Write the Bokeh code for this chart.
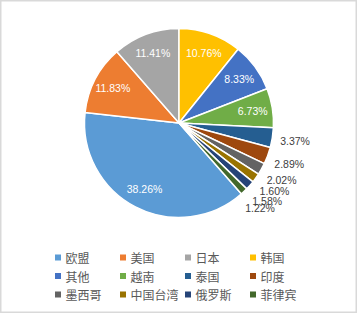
import math
from bokeh.plotting import figure
from bokeh.models import Range1d, ColumnDataSource
from bokeh.core.properties import value
from bokeh.embed import file_html
from bokeh.resources import INLINE

categories = ["欧盟", "美国", "日本", "韩国", "其他", "越南", "泰国", "印度",
              "墨西哥", "中国台湾", "俄罗斯", "菲律宾"]
shares = [38.26, 11.83, 11.41, 10.76, 8.33, 6.73, 3.37, 2.89, 2.02, 1.60, 1.58, 1.22]
colors = ["#5B9BD5", "#ED7D31", "#A5A5A5", "#FFC000", "#4472C4", "#70AD47",
          "#255E91", "#9E480E", "#636363", "#997300", "#264478", "#43682B"]

W, H = 357, 313
CX, CY, R = 178.5, H - 122.5, 94.5
FIRST_ANGLE = 138.6  # degrees clockwise from 12 o'clock

total = sum(shares)
starts, ends, mids = [], [], []
acc = FIRST_ANGLE
for s in shares:
    a0 = acc
    a1 = acc + 360.0 * s / total
    starts.append(math.radians(90 - a1))
    ends.append(math.radians(90 - a0))
    mids.append((a0 + a1) / 2)
    acc = a1

p = figure(width=W, height=H, output_backend="svg", toolbar_location=None,
           x_range=Range1d(0, W), y_range=Range1d(0, H),
           x_axis_location=None, y_axis_location=None, min_border=0)
p.grid.visible = False
p.outline_line_color = "#d9d9d9"
p.outline_line_width = 2
p.background_fill_color = "white"
p.border_fill_color = "white"

src = ColumnDataSource(dict(x=[CX] * len(shares), y=[CY] * len(shares),
                            start=starts, end=ends, color=colors, name=categories))
p.wedge(x="x", y="y", radius=R, start_angle="start", end_angle="end",
        fill_color="color", line_color="white", line_width=1.5, source=src)

in_x, in_y, in_t, out_x, out_y, out_t = [], [], [], [], [], []
for s, m in zip(shares, mids):
    t = f"{s:.2f}%"
    if s > 5:
        r = 0.79 * R
        in_x.append(CX + r * math.sin(math.radians(m)))
        in_y.append(CY + r * math.cos(math.radians(m)))
        in_t.append(t)
    else:
        r = R + 23
        out_x.append(CX + r * math.sin(math.radians(m)))
        out_y.append(CY + r * math.cos(math.radians(m)))
        out_t.append(t)

p.text(x=in_x, y=in_y, text=in_t, text_align="center", text_baseline="middle",
       text_color="white", text_font=value("Liberation Sans"), text_font_size="10.5px")
p.text(x=out_x, y=out_y, text=out_t, text_align="center", text_baseline="middle",
       text_color="#404040", text_font=value("Liberation Sans"), text_font_size="10.5px")

# legend
LX0, LDX = 57.5, 65
LY0, LDY = H - 257, 18.5
lx, ly, tx = [], [], []
for i in range(len(categories)):
    col, row = i % 4, i // 4
    lx.append(LX0 + col * LDX)
    ly.append(LY0 - row * LDY)
    tx.append(LX0 + col * LDX + 7.5)
p.scatter(x=lx, y=ly, marker="square", size=6, fill_color=colors, line_color=None)
p.text(x=tx, y=ly, text=categories, text_align="left", text_baseline="middle",
       text_color="#595959", text_font=value("Noto Sans CJK SC"), text_font_size="12px")

open("out.html", "w").write(file_html(p, INLINE))
